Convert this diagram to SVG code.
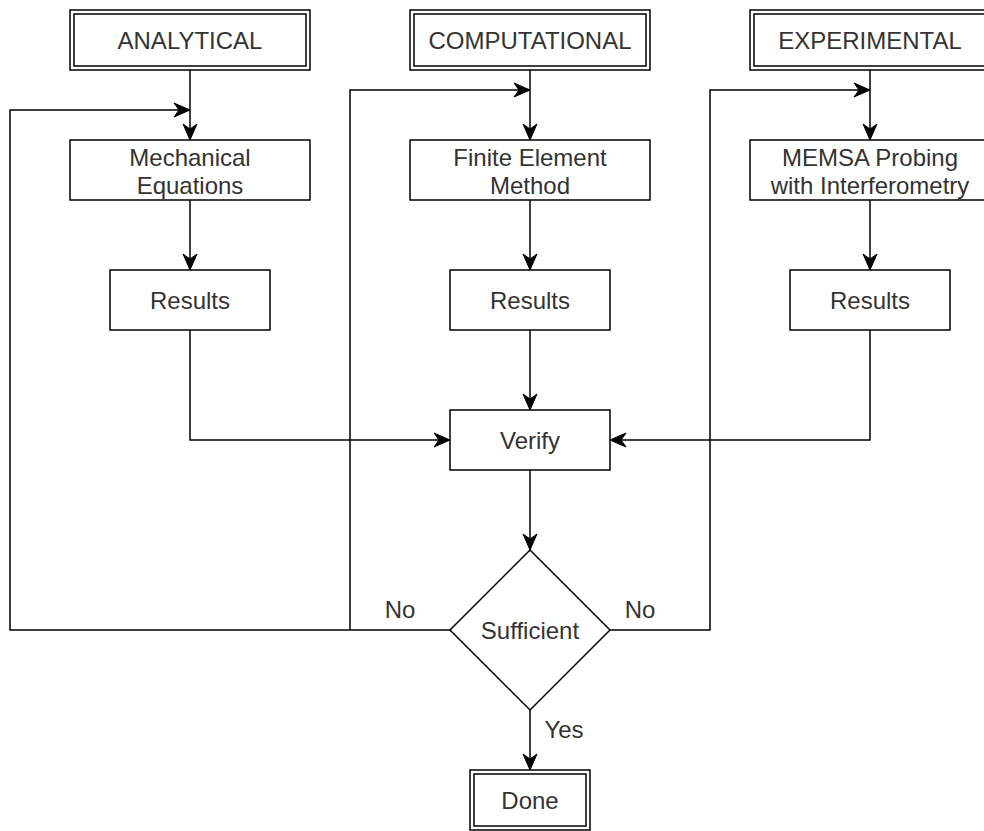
<svg xmlns="http://www.w3.org/2000/svg" width="984" height="831" viewBox="0 0 984 831">
  <defs>
    <style>
      .box { fill: #ffffff; stroke: #000000; stroke-width: 1.5; }
      .inner { fill: none; stroke: #000000; stroke-width: 1.5; }
      .lbl { font-family: "Liberation Sans", Arial, Helvetica, sans-serif; font-size: 24px; fill: #333333; text-anchor: middle; }
      .edge { fill: none; stroke: #000000; stroke-width: 1.5; }
      .arrow { marker-end: url(#head); }
    </style>
    <marker id="head" markerUnits="userSpaceOnUse" viewBox="-17 -8 18 16" refX="0" refY="0" markerWidth="18" markerHeight="16" orient="auto">
      <path d="M0,0 L-16,-7 L-11,0 L-16,7 Z" fill="#000000" stroke="#000000" stroke-width="1"/>
    </marker>
  </defs>
  <rect width="984" height="831" fill="#ffffff"/>

  <!-- connectors -->
  <g id="connectors">
    <path class="edge arrow" d="M190,70 V140"/>
    <path class="edge arrow" d="M530,70 V140"/>
    <path class="edge arrow" d="M870,70 V140"/>
    <path class="edge arrow" d="M190,200 V270"/>
    <path class="edge arrow" d="M530,200 V270"/>
    <path class="edge arrow" d="M870,200 V270"/>
    <path class="edge arrow" d="M190,330 V440 H450"/>
    <path class="edge arrow" d="M530,330 V410"/>
    <path class="edge arrow" d="M870,330 V440 H610"/>
    <path class="edge arrow" d="M530,470 V550"/>
    <path class="edge arrow" d="M450,630 H10 V110 H190"/>
    <path class="edge arrow" d="M350,630 V90 H530"/>
    <path class="edge arrow" d="M610,630 H710 V90 H870"/>
    <path class="edge arrow" d="M530,710 V770"/>
    <text class="lbl" x="400" y="618">No</text>
    <text class="lbl" x="640" y="618">No</text>
    <text class="lbl" x="564" y="738">Yes</text>
  </g>

  <!-- source categories -->
  <g id="analytical">
    <rect class="box" x="70" y="10" width="240" height="60"/>
    <rect class="inner" x="74" y="14" width="232" height="52"/>
    <text class="lbl" x="190" y="49">ANALYTICAL</text>
  </g>
  <g id="computational">
    <rect class="box" x="410" y="10" width="240" height="60"/>
    <rect class="inner" x="414" y="14" width="232" height="52"/>
    <text class="lbl" x="530" y="49">COMPUTATIONAL</text>
  </g>
  <g id="experimental">
    <rect class="box" x="750" y="10" width="240" height="60"/>
    <rect class="inner" x="754" y="14" width="232" height="52"/>
    <text class="lbl" x="870" y="49">EXPERIMENTAL</text>
  </g>

  <!-- methods -->
  <g id="mechanical-equations">
    <rect class="box" x="70" y="140" width="240" height="60"/>
    <text class="lbl" x="190" y="166">Mechanical</text>
    <text class="lbl" x="190" y="194">Equations</text>
  </g>
  <g id="finite-element-method">
    <rect class="box" x="410" y="140" width="240" height="60"/>
    <text class="lbl" x="530" y="166">Finite Element</text>
    <text class="lbl" x="530" y="194">Method</text>
  </g>
  <g id="memsa-probing">
    <rect class="box" x="750" y="140" width="240" height="60"/>
    <text class="lbl" x="870" y="166">MEMSA Probing</text>
    <text class="lbl" x="870" y="194">with Interferometry</text>
  </g>

  <!-- results -->
  <g id="results-analytical">
    <rect class="box" x="110" y="270" width="160" height="60"/>
    <text class="lbl" x="190" y="309">Results</text>
  </g>
  <g id="results-computational">
    <rect class="box" x="450" y="270" width="160" height="60"/>
    <text class="lbl" x="530" y="309">Results</text>
  </g>
  <g id="results-experimental">
    <rect class="box" x="790" y="270" width="160" height="60"/>
    <text class="lbl" x="870" y="309">Results</text>
  </g>

  <!-- check and decision -->
  <g id="verify">
    <rect class="box" x="450" y="410" width="160" height="60"/>
    <text class="lbl" x="530" y="449">Verify</text>
  </g>
  <g id="sufficient">
    <path class="box" d="M530,550 L610,630 L530,710 L450,630 Z"/>
    <text class="lbl" x="530" y="639">Sufficient</text>
  </g>
  <g id="done">
    <rect class="box" x="470" y="770" width="120" height="60"/>
    <rect class="inner" x="474" y="774" width="112" height="52"/>
    <text class="lbl" x="530" y="809">Done</text>
  </g>
</svg>
